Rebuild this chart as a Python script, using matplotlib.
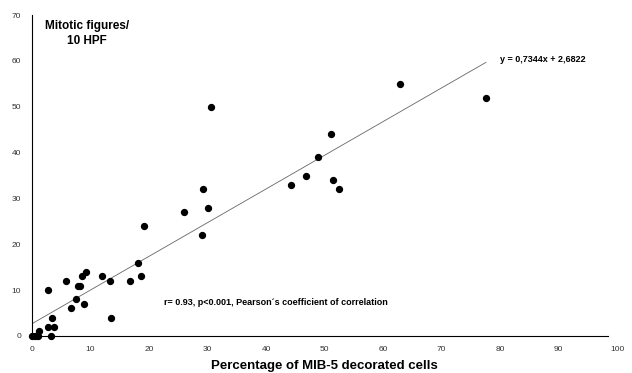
import matplotlib.pyplot as plt
import numpy as np

plt.rcParams['font.family'] = ['Liberation Sans', 'DejaVu Sans']

# MIB-5 decorated cells (%) vs mitotic figures per 10 HPF
mib5 = [0, 0.5, 1.0, 1.25, 2.7, 2.8, 3.2, 3.4, 3.7, 5.8, 6.7, 7.5, 7.8, 8.2, 8.6, 8.9, 9.3,
        11.9, 13.3, 13.5, 16.7, 18.2, 18.7, 19.2, 25.9, 29.0, 29.2, 30.0, 30.6,
        44.2, 46.9, 48.9, 51.1, 51.4, 52.4, 62.9, 77.6]
mitoses = [0, 0, 0, 1, 10, 2, 0, 4, 2, 12, 6, 8, 11, 11, 13, 7, 14,
           13, 12, 4, 12, 16, 13, 24, 27, 22, 32, 28, 50,
           33, 35, 39, 44, 34, 32, 55, 52]
slope = 0.7344
intercept = 2.6822
fit_x = [0, 77.6]

fig = plt.figure(figsize=(6.32, 3.73), dpi=100)
ax = fig.add_axes([32 / 632, 37 / 373, 585 / 632, 321 / 373])

ax.scatter(mib5, mitoses, s=18, color='black', zorder=3, clip_on=False)
fx = np.array(fit_x)
ax.plot(fx, slope * fx + intercept, color='#666666', linewidth=0.6)

ax.set_xlim(0, 100)
ax.set_ylim(0, 70)
ax.set_xticks(range(0, 101, 10))
ax.set_yticks(range(0, 71, 10))
ax.tick_params(length=0, labelsize=6, colors='#333333')
ax.tick_params(axis='x', pad=7)
ax.tick_params(axis='y', pad=8)
for s in ['top', 'right']:
    ax.spines[s].set_visible(False)
ax.spines['left'].set_linewidth(0.8)
ax.spines['bottom'].set_linewidth(0.8)
ax.spines['bottom'].set_bounds(0, 98.5)

ax.set_xlabel('Percentage of MIB-5 decorated cells', fontsize=9.5, fontweight='bold', labelpad=5)

ax.text(0.094, 0.985, 'Mitotic figures/\n10 HPF', transform=ax.transAxes, fontsize=8.5,
        fontweight='bold', ha='center', va='top', linespacing=1.3)
ax.text(80.0, 60.2, 'y = 0,7344x + 2,6822', fontsize=6.5, fontweight='bold', va='center')
ax.text(22.5, 7.2, 'r= 0.93, p<0.001, Pearson´s coefficient of correlation', fontsize=6.5,
        fontweight='bold', va='center')

fig.savefig('out.png', dpi=100)
